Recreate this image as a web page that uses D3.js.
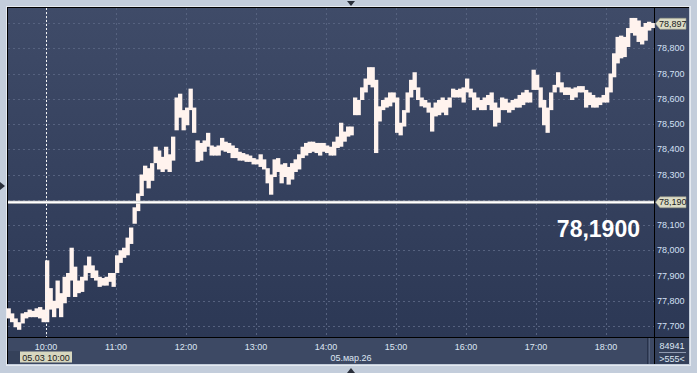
<!DOCTYPE html>
<html>
<head>
<meta charset="utf-8">
<script src="https://cdn.jsdelivr.net/npm/d3@7"></script>
<style>
  html, body { margin: 0; padding: 0; background: #c3cddb; }
  svg { display: block; }
</style>
</head>
<body>
<div id="chart"></div>
<script>
// ── 1. Data: 3-minute bars, 09:28 → 18:40 ──────
const BAR_START   = 9 * 60 + 28;   // minutes since midnight
const BAR_MINUTES = 3;

const HIGHS = [
  77.770, 77.750, 77.730, 77.715, 77.750, 77.755, 77.765, 77.760, 77.770, 77.775,
  77.765, 77.960, 77.850, 77.800, 77.880, 77.830, 77.895, 77.910, 78.010, 77.935,
  77.880, 77.895, 77.940, 77.975, 77.940, 77.920, 77.895, 77.890, 77.895, 77.910,
  77.910, 77.980, 78.000, 78.010, 78.050, 78.090, 78.170, 78.225, 78.300, 78.335,
  78.325, 78.345, 78.410, 78.395, 78.370, 78.410, 78.380, 78.450, 78.605, 78.620,
  78.555, 78.565, 78.640, 78.565, 78.435, 78.425, 78.435, 78.465, 78.415, 78.410,
  78.415, 78.445, 78.430, 78.425, 78.415, 78.405, 78.390, 78.385, 78.380, 78.375,
  78.365, 78.360, 78.380, 78.360, 78.325, 78.300, 78.360, 78.365, 78.340, 78.345,
  78.330, 78.345, 78.360, 78.380, 78.410, 78.425, 78.430, 78.430, 78.425, 78.425,
  78.425, 78.415, 78.410, 78.430, 78.450, 78.505, 78.470, 78.490, 78.490, 78.605,
  78.595, 78.645, 78.680, 78.725, 78.725, 78.675, 78.570, 78.595, 78.605, 78.625,
  78.625, 78.605, 78.505, 78.555, 78.625, 78.675, 78.705, 78.645, 78.605, 78.595,
  78.585, 78.565, 78.585, 78.595, 78.605, 78.595, 78.605, 78.640, 78.635, 78.640,
  78.645, 78.680, 78.640, 78.625, 78.605, 78.595, 78.605, 78.615, 78.625, 78.585,
  78.565, 78.605, 78.600, 78.585, 78.595, 78.600, 78.615, 78.625, 78.635, 78.625,
  78.715, 78.695, 78.645, 78.595, 78.565, 78.625, 78.655, 78.705, 78.665, 78.645,
  78.645, 78.640, 78.645, 78.650, 78.650, 78.635, 78.625, 78.615, 78.605, 78.605,
  78.615, 78.645, 78.700, 78.780, 78.845, 78.850, 78.845, 78.880, 78.920, 78.920,
  78.910, 78.885, 78.900, 78.905, 78.900
];

const LOWS = [
  77.730, 77.715, 77.695, 77.685, 77.710, 77.730, 77.735, 77.735, 77.735, 77.730,
  77.715, 77.715, 77.765, 77.735, 77.770, 77.735, 77.790, 77.815, 77.880, 77.815,
  77.830, 77.835, 77.880, 77.910, 77.890, 77.880, 77.855, 77.860, 77.860, 77.875,
  77.855, 77.910, 77.950, 77.970, 77.980, 78.025, 78.105, 78.155, 78.215, 78.275,
  78.245, 78.275, 78.345, 78.320, 78.310, 78.320, 78.310, 78.355, 78.475, 78.525,
  78.475, 78.495, 78.555, 78.465, 78.350, 78.355, 78.390, 78.410, 78.375, 78.375,
  78.375, 78.395, 78.390, 78.385, 78.365, 78.365, 78.355, 78.355, 78.350, 78.350,
  78.340, 78.340, 78.330, 78.320, 78.265, 78.220, 78.290, 78.310, 78.265, 78.290,
  78.260, 78.280, 78.310, 78.320, 78.365, 78.375, 78.385, 78.390, 78.385, 78.375,
  78.390, 78.385, 78.375, 78.375, 78.405, 78.410, 78.430, 78.450, 78.455, 78.535,
  78.535, 78.595, 78.625, 78.655, 78.645, 78.385, 78.510, 78.555, 78.565, 78.570,
  78.585, 78.465, 78.455, 78.490, 78.545, 78.605, 78.635, 78.595, 78.570, 78.565,
  78.545, 78.470, 78.530, 78.535, 78.545, 78.535, 78.565, 78.605, 78.605, 78.605,
  78.585, 78.625, 78.605, 78.555, 78.565, 78.555, 78.555, 78.575, 78.555, 78.490,
  78.505, 78.555, 78.555, 78.545, 78.555, 78.565, 78.565, 78.575, 78.585, 78.585,
  78.635, 78.635, 78.565, 78.495, 78.465, 78.555, 78.625, 78.645, 78.625, 78.615,
  78.615, 78.595, 78.605, 78.625, 78.625, 78.565, 78.575, 78.565, 78.565, 78.575,
  78.585, 78.585, 78.625, 78.685, 78.740, 78.760, 78.765, 78.805, 78.860, 78.850,
  78.825, 78.815, 78.830, 78.870, 78.880
];

const PRICE_TICKS = [77.7, 77.8, 77.9, 78.0, 78.1, 78.2, 78.3, 78.4, 78.5, 78.6, 78.7, 78.8, 78.9];
const TIME_TICKS  = ["10:00", "11:00", "12:00", "13:00", "14:00", "15:00", "16:00", "17:00", "18:00"];

const LAST_PRICE   = 78.897;
const CROSS_PRICE  = 78.19;
const CROSS_TIME   = "10:00";
const CROSS_LABEL  = "05.03 10:00";
const DATE_LABEL   = "05.мар.26";
const CROSS_BIG    = "78,1900";
const VOLUME_LABEL = "84941";
const SCALE_LABEL  = ">555<";


// ── 2. Layout ──────────────────────────────────
const W = 697, H = 373;
const plot = { left: 8, top: 8, right: 654, bottom: 337 };
const axisR = { left: 655, right: 689 };
const axisB = { top: 338, bottom: 364 };
const FONT = "'Liberation Sans', Arial, sans-serif";

const toMin = s => { const [h, m] = s.split(":").map(Number); return h * 60 + m; };
const fmtPrice = v => d3.format(".3f")(v).replace(".", ",");

const x = d3.scaleLinear().domain([toMin("10:00"), toMin("18:00")]).range([46, 606]);
const y = d3.scaleLinear().domain([77.7, 78.9]).range([326, 23]);

const svg = d3.select("#chart").append("svg")
  .attr("width", W).attr("height", H)
  .attr("viewBox", `0 0 ${W} ${H}`);

// ── 3. Frame & panels ──────────────────────────
const defs = svg.append("defs");
const grad = defs.append("linearGradient")
  .attr("id", "panel-grad").attr("x1", 0).attr("y1", 0).attr("x2", 0).attr("y2", 1);
grad.append("stop").attr("offset", "0%").attr("stop-color", "#3f4b68");
grad.append("stop").attr("offset", "100%").attr("stop-color", "#2c3855");

svg.append("rect").attr("x", 0).attr("y", 0).attr("width", W).attr("height", H).attr("fill", "#c3cddb");
svg.append("rect")
  .attr("x", 6.5).attr("y", 6.5)
  .attr("width", axisR.right - 5).attr("height", axisB.bottom - 5)
  .attr("fill", "none").attr("stroke", "#e4e9f0");
svg.append("rect")
  .attr("x", 7).attr("y", 7)
  .attr("width", axisR.right - 7).attr("height", axisB.bottom - 7)
  .attr("fill", "#000");

svg.append("rect")
  .attr("x", plot.left).attr("y", plot.top)
  .attr("width", plot.right - plot.left).attr("height", plot.bottom - plot.top)
  .attr("fill", "url(#panel-grad)");
svg.append("rect")
  .attr("x", axisR.left).attr("y", plot.top)
  .attr("width", axisR.right - axisR.left).attr("height", plot.bottom - plot.top)
  .attr("fill", "url(#panel-grad)");

// bottom time strip
svg.append("rect")
  .attr("x", plot.left).attr("y", axisB.top)
  .attr("width", plot.right - plot.left).attr("height", axisB.bottom - axisB.top)
  .attr("fill", "#3d4964");
svg.append("rect")
  .attr("x", plot.left).attr("y", 351)
  .attr("width", 12).attr("height", axisB.bottom - 351)
  .attr("fill", "#35415a");
svg.append("line")
  .attr("x1", 647.5).attr("x2", 647.5).attr("y1", axisB.top).attr("y2", axisB.bottom)
  .attr("stroke", "#28324a");
svg.append("line")
  .attr("x1", 649.5).attr("x2", 649.5).attr("y1", axisB.top).attr("y2", axisB.bottom)
  .attr("stroke", "#56627c");
svg.append("rect")
  .attr("x", axisR.left).attr("y", axisB.top)
  .attr("width", axisR.right - axisR.left).attr("height", axisB.bottom - axisB.top)
  .attr("fill", "#34405a");

// scroll arrows on the frame
const tri = (pts) => svg.append("polygon").attr("points", pts.map(p => p.join(",")).join(" ")).attr("fill", "#2a2f3a");
tri([[347, 1], [355, 1], [351, 6]]);
tri([[347, 373], [355, 373], [351, 368]]);
tri([[0, 182], [0, 190], [5, 186]]);

// ── 4. Grid ────────────────────────────────────
const grid = svg.append("g").attr("stroke", "#56627f").attr("stroke-dasharray", "2,3").attr("stroke-width", 1);
PRICE_TICKS.forEach(v => {
  grid.append("line")
    .attr("x1", plot.left).attr("x2", plot.right)
    .attr("y1", Math.round(y(v)) + 0.5).attr("y2", Math.round(y(v)) + 0.5);
});
TIME_TICKS.forEach(t => {
  grid.append("line")
    .attr("x1", Math.round(x(toMin(t))) + 0.5).attr("x2", Math.round(x(toMin(t))) + 0.5)
    .attr("y1", plot.top).attr("y2", plot.bottom);
});

// ── 5. Bars (high-low) ─────────────────────────
// adjacent bars overlap a little so the range reads as one ribbon
const step = x(BAR_MINUTES) - x(0);
svg.append("g")
  .selectAll("rect")
  .data(HIGHS.map((h, i) => ({ t: BAR_START + i * BAR_MINUTES, hi: h, lo: LOWS[i] })))
  .join("rect")
  .attr("x", d => x(d.t) - step / 2 - 0.4)
  .attr("width", step + 0.8)
  .attr("y", d => y(d.hi))
  .attr("height", d => Math.max(1, y(d.lo) - y(d.hi)))
  .attr("fill", "#fff3ee");

// ── 6. Crosshair ───────────────────────────────
svg.append("line")
  .attr("x1", Math.round(x(toMin(CROSS_TIME))) + 0.5).attr("x2", Math.round(x(toMin(CROSS_TIME))) + 0.5)
  .attr("y1", plot.top).attr("y2", plot.bottom)
  .attr("stroke", "#f4f4f4").attr("stroke-dasharray", "2,2");
svg.append("line")
  .attr("x1", plot.left).attr("x2", plot.right)
  .attr("y1", y(CROSS_PRICE)).attr("y2", y(CROSS_PRICE))
  .attr("stroke", "#c9c9c9").attr("stroke-width", 3);
svg.append("line")
  .attr("x1", plot.left).attr("x2", plot.right)
  .attr("y1", y(CROSS_PRICE)).attr("y2", y(CROSS_PRICE))
  .attr("stroke", "#ffffff").attr("stroke-width", 1.4);

svg.append("text")
  .attr("x", 640).attr("y", 237)
  .attr("text-anchor", "end")
  .attr("fill", "#ffffff")
  .attr("font-size", "23px").attr("font-weight", "700")
  .attr("font-family", FONT)
  .text(CROSS_BIG);

// ── 7. Price axis (right) ──────────────────────
// labels hidden under the price tags are skipped
const TAGS = [LAST_PRICE, CROSS_PRICE];
PRICE_TICKS
  .filter(v => TAGS.every(t => Math.abs(y(v) - y(t)) > 9))
  .forEach(v => {
    svg.append("text")
      .attr("x", 657).attr("y", y(v)).attr("dy", "0.35em")
      .attr("fill", "#d3e0f5")
      .attr("font-size", "9px").attr("font-family", FONT)
      .text(fmtPrice(v));
  });

function priceTag(v) {
  const cy = y(v);
  svg.append("polygon")
    .attr("points", `655.5,${cy} 660,${cy - 5.5} 686,${cy - 5.5} 686,${cy + 5.5} 660,${cy + 5.5}`)
    .attr("fill", "#dcdcc6").attr("stroke", "#9a9a88").attr("stroke-width", 0.6);
  svg.append("text")
    .attr("x", 659).attr("y", cy).attr("dy", "0.35em")
    .attr("fill", "#1a1a1a")
    .attr("font-size", "9px").attr("font-family", FONT)
    .text(fmtPrice(v));
}
TAGS.forEach(priceTag);

// ── 8. Time axis (bottom) ──────────────────────
TIME_TICKS.forEach(t => {
  svg.append("text")
    .attr("x", x(toMin(t))).attr("y", 349.5)
    .attr("text-anchor", "middle")
    .attr("fill", "#dde6f3")
    .attr("font-size", "9px").attr("font-family", FONT)
    .text(t);
});

svg.append("text")
  .attr("x", 351).attr("y", 360.5)
  .attr("text-anchor", "middle")
  .attr("fill", "#dde6f3")
  .attr("font-size", "9px").attr("font-family", FONT)
  .text(DATE_LABEL);

svg.append("rect")
  .attr("x", 20).attr("y", 351.5).attr("width", 52).attr("height", 11)
  .attr("fill", "#d7d7bf");
svg.append("text")
  .attr("x", 46).attr("y", 360.5)
  .attr("text-anchor", "middle")
  .attr("fill", "#1a1a1a")
  .attr("font-size", "9px").attr("font-family", FONT)
  .text(CROSS_LABEL);

// volume / scale box
svg.append("text")
  .attr("x", 672).attr("y", 349)
  .attr("text-anchor", "middle").attr("fill", "#dde6f3")
  .attr("font-size", "9px").attr("font-family", FONT)
  .text(VOLUME_LABEL);
svg.append("line")
  .attr("x1", 659).attr("x2", 686).attr("y1", 352.5).attr("y2", 352.5)
  .attr("stroke", "#8f9ab0");
svg.append("text")
  .attr("x", 672).attr("y", 361.5)
  .attr("text-anchor", "middle").attr("fill", "#dde6f3")
  .attr("font-size", "9px").attr("font-family", FONT)
  .text(SCALE_LABEL);
</script>
</body>
</html>
